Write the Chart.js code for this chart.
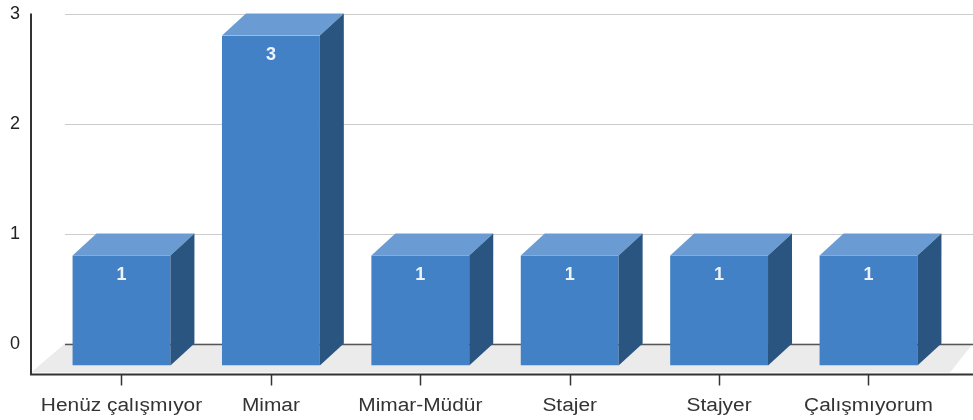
<!DOCTYPE html>
<html>
<head>
<meta charset="utf-8">
<script src="https://cdn.jsdelivr.net/npm/chart.js@4/dist/chart.umd.min.js"></script>
<style>
  html, body { margin: 0; padding: 0; background: #fff; }
  #wrap { width: 973px; height: 420px; }
</style>
</head>
<body>
<div id="wrap"><canvas id="chart"></canvas></div>
<script>
const categories = ['Henüz çalışmıyor', 'Mimar', 'Mimar-Müdür', 'Stajer', 'Stajyer', 'Çalışmıyorum'];
const counts = [1, 3, 1, 1, 1, 1];
const yTicks = [0, 1, 2, 3];

// 3d look
const barDX = 24, barDY = 22;     // bar depth
const floorDX = 34, floorDY = 31; // floor depth (back plane -> front axis)
const frontColor = '#4281c6';
const topColor = '#6a9bd2';
const sideColor = '#2a5581';
const font = '"Liberation Sans", Arial, sans-serif';

const fake3d = {
  id: 'fake3d',
  beforeDatasetsDraw(chart) {
    const ctx = chart.ctx;
    const y = chart.scales.y;
    const W = chart.width;
    const back0 = y.getPixelForValue(0) - barDY;
    const backLeft = 65;
    const frontLeft = backLeft - floorDX;
    const frontY = back0 + floorDY;
    ctx.save();

    // floor
    ctx.fillStyle = '#ebebeb';
    ctx.beginPath();
    ctx.moveTo(backLeft, back0);
    ctx.lineTo(W, back0);
    ctx.lineTo(W - floorDX + 11, frontY - 2);
    ctx.lineTo(frontLeft, frontY - 2);
    ctx.closePath();
    ctx.fill();

    // back grid lines
    yTicks.forEach(v => {
      const py = Math.round(y.getPixelForValue(v) - barDY) + 0.5;
      ctx.strokeStyle = v === 0 ? '#555' : '#cccccc';
      ctx.lineWidth = v === 0 ? 1.5 : 1;
      ctx.beginPath();
      ctx.moveTo(backLeft, py);
      ctx.lineTo(W, py);
      ctx.stroke();
    });

    // front axes
    const top = y.getPixelForValue(3) - barDY;
    ctx.strokeStyle = '#333';
    ctx.lineWidth = 2;
    ctx.beginPath();
    ctx.moveTo(frontLeft, top);
    ctx.lineTo(frontLeft, frontY);
    ctx.lineTo(W, frontY);
    ctx.stroke();

    // y labels
    ctx.fillStyle = '#222';
    ctx.font = '18px ' + font;
    ctx.textAlign = 'right';
    ctx.textBaseline = 'alphabetic';
    yTicks.forEach(v => {
      ctx.fillText(String(v), 20, y.getPixelForValue(v) - barDY + 5.5);
    });

    // x ticks and labels (labels a bit wider than the font, as in the original)
    const bars = chart.getDatasetMeta(0).data;
    ctx.textAlign = 'center';
    ctx.fillStyle = '#333';
    ctx.lineWidth = 1.5;
    bars.forEach((bar, i) => {
      const px = Math.round(bar.x) + 0.5;
      ctx.beginPath();
      ctx.moveTo(px, frontY);
      ctx.lineTo(px, frontY + 11);
      ctx.stroke();
      ctx.save();
      ctx.translate(bar.x, 411);
      ctx.scale(1.16, 1);
      ctx.fillText(categories[i], 0, 0);
      ctx.restore();
    });
    ctx.restore();
  },
  afterDatasetsDraw(chart) {
    const ctx = chart.ctx;
    const bars = chart.getDatasetMeta(0).data;
    ctx.save();
    bars.forEach((bar, i) => {
      const l = bar.x - bar.width / 2;
      const r = bar.x + bar.width / 2;
      const t = bar.y;
      const b = bar.base;
      // top face
      ctx.fillStyle = topColor;
      ctx.beginPath();
      ctx.moveTo(l, t);
      ctx.lineTo(l + barDX, t - barDY);
      ctx.lineTo(r + barDX, t - barDY);
      ctx.lineTo(r, t);
      ctx.closePath();
      ctx.fill();
      // side face
      ctx.fillStyle = sideColor;
      ctx.beginPath();
      ctx.moveTo(r, t);
      ctx.lineTo(r + barDX, t - barDY);
      ctx.lineTo(r + barDX, b - barDY);
      ctx.lineTo(r, b);
      ctx.closePath();
      ctx.fill();
      // value label
      ctx.fillStyle = '#eef3fa';
      ctx.font = 'bold 18px ' + font;
      ctx.textAlign = 'center';
      ctx.textBaseline = 'alphabetic';
      ctx.fillText(String(counts[i]), bar.x, t + 24.5);
    });
    ctx.restore();
  }
};

new Chart(document.getElementById('chart'), {
  type: 'bar',
  data: {
    labels: categories,
    datasets: [{
      data: counts,
      backgroundColor: frontColor,
      borderWidth: 0,
      categoryPercentage: 1,
      barPercentage: 0.655,
    }],
  },
  options: {
    responsive: true,
    maintainAspectRatio: false,
    animation: false,
    layout: { padding: { left: 46.8, right: 29.8, top: 35.5, bottom: 54.5 } },
    plugins: { legend: { display: false }, tooltip: { enabled: false } },
    scales: {
      x: { display: false },
      y: { display: false, min: 0, max: 3 },
    },
  },
  plugins: [fake3d],
});
</script>
</body>
</html>
